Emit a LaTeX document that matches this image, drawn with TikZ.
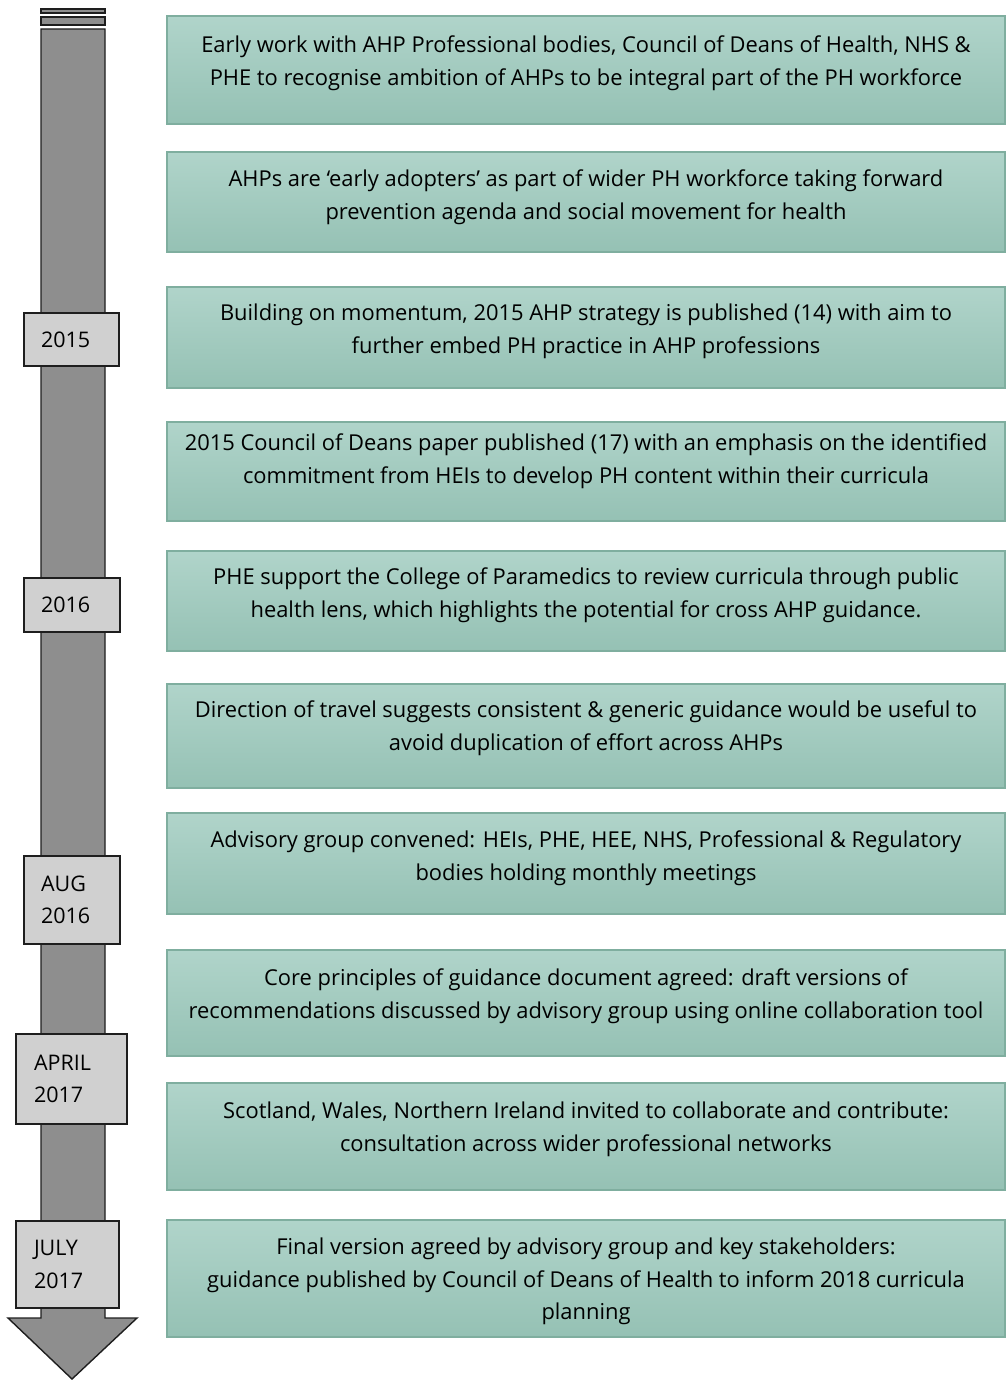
\documentclass[tikz,border=0pt]{standalone}
\usepackage{fontspec}
\setmainfont{Open Sans}
\definecolor{gTop}{HTML}{B0D4CA}
\definecolor{gBot}{HTML}{95C1B4}
\definecolor{gLine}{HTML}{7FAE9F}
\definecolor{shaft}{HTML}{8E8E8E}
\definecolor{dateFill}{HTML}{D0D0D0}
\definecolor{edge}{HTML}{1E1E1E}
\begin{document}
\begin{tikzpicture}[x=1pt,y=-1pt,
  gbox/.style={rectangle, draw=gLine, line width=1.2pt, top color=gTop, bottom color=gBot, minimum width=838pt, inner sep=0pt},
  txt/.style={anchor=north, align=center, inner sep=0pt, font=\fontsize{21.9}{32.5}\selectfont, text=black},
  datebox/.style={rectangle, draw=edge, line width=1.6pt, fill=dateFill, align=left, inner ysep=0pt, font=\fontsize{21.5}{32.5}\selectfont},
  bar/.style={draw=edge, line width=1.4pt, fill=shaft}]
\useasboundingbox (0,0) rectangle (1006,1381);
% timeline arrow
\draw[bar] (41,9) rectangle (105,13);
\draw[bar] (41,17) rectangle (105,25);
\draw[bar, line join=miter] (41,29) -- (105,29) -- (105,1318) -- (137,1318) -- (72,1379) -- (8,1318) -- (41,1318) -- cycle;
% date boxes
\node[datebox, minimum width=95pt, minimum height=53pt, text width=61pt, inner xsep=17pt] (d1) at (71.5,339.5) {2015};
\node[datebox, minimum width=96pt, minimum height=54pt, text width=62pt, inner xsep=17pt] (d2) at (72,605) {2016};
\node[datebox, minimum width=96pt, minimum height=88pt, text width=62pt, inner xsep=17pt] (d3) at (72,900) {AUG\\2016};
\node[datebox, minimum width=111pt, minimum height=90pt, text width=75pt, inner xsep=18pt] (d4) at (71.5,1079) {APRIL\\2017};
\node[datebox, minimum width=103pt, minimum height=87pt, text width=67pt, inner xsep=18pt] (d5) at (67.5,1264.5) {JULY\\2017};
% event boxes
\node[gbox, minimum height=108pt] (b1) at (586,70) {};
\node[gbox, minimum height=100pt] (b2) at (586,202) {};
\node[gbox, minimum height=101pt] (b3) at (586,337.5) {};
\node[gbox, minimum height=99pt] (b4) at (586,471.5) {};
\node[gbox, minimum height=100pt] (b5) at (586,601) {};
\node[gbox, minimum height=104pt] (b6) at (586,736) {};
\node[gbox, minimum height=101pt] (b7) at (586,863.5) {};
\node[gbox, minimum height=106pt] (b8) at (586,1003) {};
\node[gbox, minimum height=107pt] (b9) at (586,1136.5) {};
\node[gbox, minimum height=117pt] (b10) at (586,1278.5) {};
% texts
\node[txt] (t1) at (586,36) {Early work with AHP Professional bodies, Council of Deans of Health, NHS \&\\PHE to recognise ambition of AHPs to be integral part of the PH workforce};
\node[txt] (t2) at (586,170) {AHPs are ‘early adopters’ as part of wider PH workforce taking forward\\prevention agenda and social movement for health};
\node[txt] (t3) at (586,304) {Building on momentum, 2015 AHP strategy is published (14) with aim to\\further embed PH practice in AHP professions};
\node[txt] (t4) at (586,434) {2015 Council of Deans paper published (17) with an emphasis on the identified\\commitment from HEIs to develop PH content within their curricula};
\node[txt] (t5) at (586,568) {PHE support the College of Paramedics to review curricula through public\\health lens, which highlights the potential for cross AHP guidance.};
\node[txt] (t6) at (586,701) {Direction of travel suggests consistent \& generic guidance would be useful to\\avoid duplication of effort across AHPs};
\node[txt] (t7) at (586,831) {Advisory group convened: HEIs, PHE, HEE, NHS, Professional \& Regulatory\\bodies holding monthly meetings};
\node[txt] (t8) at (586,969) {Core principles of guidance document agreed: draft versions of\\recommendations discussed by advisory group using online collaboration tool};
\node[txt] (t9) at (586,1102) {Scotland, Wales, Northern Ireland invited to collaborate and contribute:\\consultation across wider professional networks};
\node[txt] (t10) at (586,1238) {Final version agreed by advisory group and key stakeholders:\\guidance published by Council of Deans of Health to inform 2018 curricula\\planning};
\end{tikzpicture}
\end{document}
